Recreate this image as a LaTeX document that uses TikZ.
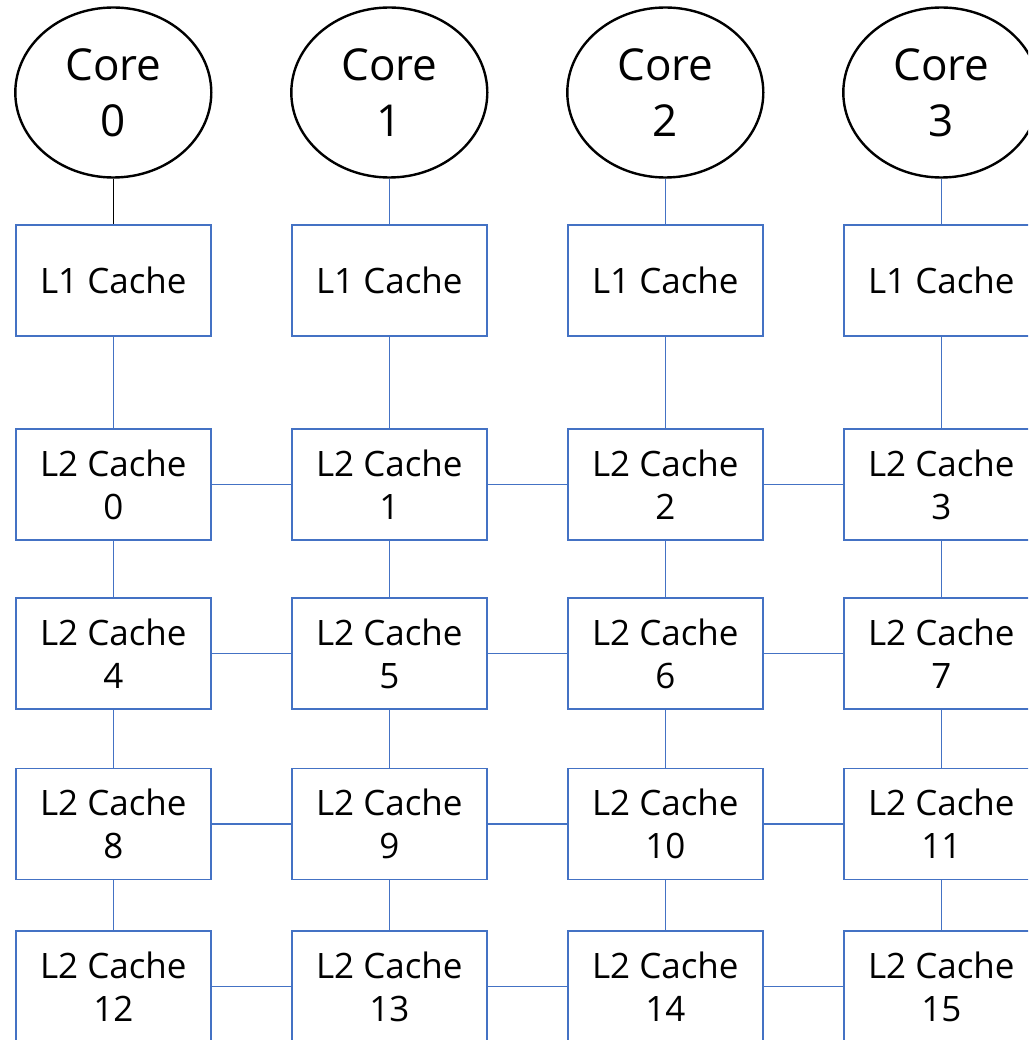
\documentclass[tikz,border=0pt]{standalone}
\usepackage{fontspec}
\setmainfont{Open Sans}
\usetikzlibrary{shapes.geometric}
\definecolor{lineblue}{HTML}{4472C4}
\tikzset{
  x=1pt, y=1pt,
  corenode/.style={ellipse, draw=black, line width=2.4pt, minimum width=196pt, minimum height=170pt, inner sep=0pt, align=center, font=\fontsize{44}{56}\selectfont},
  cachebox/.style={rectangle, draw=lineblue, line width=1.6pt, minimum width=195pt, minimum height=111pt, inner sep=0pt, align=center, font=\fontsize{35}{43}\selectfont},
  bluelink/.style={draw=lineblue, line width=1.6pt},
  blacklink/.style={draw=black, line width=1.4pt}
}
\begin{document}
\begin{tikzpicture}
\useasboundingbox (0,0) rectangle (1028,-1040);
\clip (0,0) rectangle (1028,-1040);
% cores
\foreach \i/\x in {0/113.3,1/389.3,2/665.3,3/941.3}{
  \node[corenode] (c\i) at (\x,-92.5) {Core\\\i};
  \node[cachebox] (l1\i) at (\x,-280.5) {L1 Cache};
}
% L2 caches
\foreach \r/\y in {0/-484.5,1/-653.5,2/-824,3/-986.5}{
  \foreach \cc/\x in {0/113.3,1/389.3,2/665.3,3/941.3}{
    \pgfmathtruncatemacro{\n}{4*\r+\cc}
    \node[cachebox] (l2n\n) at (\x,\y) {L2 Cache\\\n};
  }
}
% core to L1
\draw[blacklink] (c0) -- (l10);
\draw[bluelink] (c1) -- (l11);
\draw[bluelink] (c2) -- (l12);
\draw[bluelink] (c3) -- (l13);
% L1 to L2 row 0
\draw[bluelink] (l10) -- (l2n0);
\draw[bluelink] (l11) -- (l2n1);
\draw[bluelink] (l12) -- (l2n2);
\draw[bluelink] (l13) -- (l2n3);
% vertical L2 links
\foreach \a/\b in {0/4,1/5,2/6,3/7,4/8,5/9,6/10,7/11,8/12,9/13,10/14,11/15}{
  \draw[bluelink] (l2n\a) -- (l2n\b);
}
% horizontal L2 links
\foreach \a/\b in {0/1,1/2,2/3,4/5,5/6,6/7,8/9,9/10,10/11,12/13,13/14,14/15}{
  \draw[bluelink] (l2n\a) -- (l2n\b);
}
\end{tikzpicture}
\end{document}
